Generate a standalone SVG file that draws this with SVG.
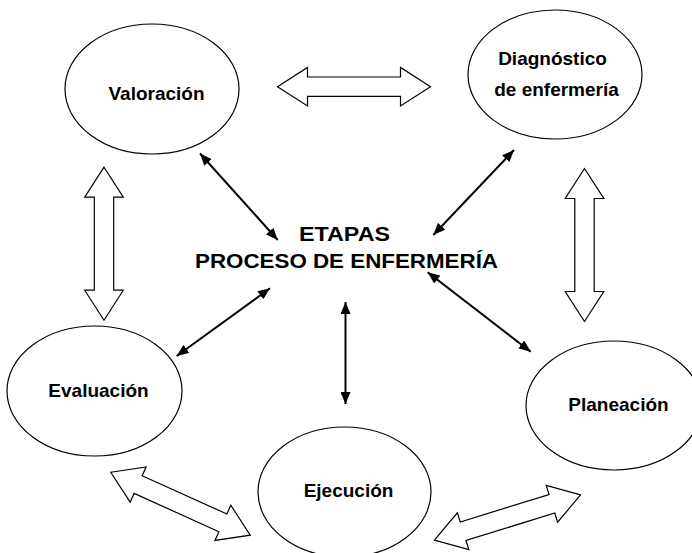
<svg xmlns="http://www.w3.org/2000/svg" xmlns:xlink="http://www.w3.org/1999/xlink" width="692" height="553" viewBox="0 0 692 553">
  <style>
    .node { fill: #ffffff; stroke: #000000; stroke-width: 1.2; }
    .lbl { font-family: "Liberation Sans", Arial, sans-serif; font-weight: bold; font-size: 19px; fill: #000000; text-anchor: middle; }
    .title { font-family: "Liberation Sans", Arial, sans-serif; font-weight: bold; font-size: 20px; fill: #000000; text-anchor: middle; }
    .link { stroke: #000000; stroke-width: 2; fill: none; marker-start: url(#head); marker-end: url(#head); }
    .block { fill: #ffffff; stroke: #000000; stroke-width: 1.2; stroke-linejoin: miter; }
  </style>
  <defs>
    <marker id="head" viewBox="0 0 12 10" refX="12" refY="5" markerWidth="12" markerHeight="10" markerUnits="userSpaceOnUse" orient="auto-start-reverse">
      <path d="M0,0 L12,5 L0,10 z" fill="#000000"/>
    </marker>
    <polygon id="blockArrow" points="-76.5,0 -46.5,-19.3 -46.5,-9.7 46.5,-9.7 46.5,-19.3 76.5,0 46.5,19.3 46.5,9.7 -46.5,9.7 -46.5,19.3"/>
  </defs>
  <rect x="0" y="0" width="692" height="553" fill="#ffffff"/>

  <g id="connectors">
    <use xlink:href="#blockArrow" class="block" transform="translate(354,86.7)"/>
    <use xlink:href="#blockArrow" class="block" transform="translate(104,243.7) rotate(90)"/>
    <use xlink:href="#blockArrow" class="block" transform="translate(584.5,245) rotate(90)"/>
    <use xlink:href="#blockArrow" class="block" transform="translate(180.5,503.7) rotate(24.3)"/>
    <use xlink:href="#blockArrow" class="block" transform="translate(507.5,517.5) rotate(-17.2)"/>
    <line class="link" x1="200" y1="153.5" x2="277.7" y2="240"/>
    <line class="link" x1="514" y1="150" x2="433.3" y2="235"/>
    <line class="link" x1="270" y1="288.3" x2="176.7" y2="356"/>
    <line class="link" x1="427.7" y1="272.3" x2="530.7" y2="351.7"/>
    <line class="link" x1="345.5" y1="302" x2="345.5" y2="404"/>
  </g>

  <g id="center">
    <text class="title" x="344.5" y="241" textLength="91" lengthAdjust="spacingAndGlyphs">ETAPAS</text>
    <text class="title" x="346.5" y="268" textLength="303" lengthAdjust="spacingAndGlyphs">PROCESO DE ENFERMERÍA</text>
  </g>

  <g id="valoracion">
    <ellipse class="node" cx="152" cy="89" rx="87" ry="65"/>
    <text class="lbl" x="156.5" y="100">Valoración</text>
  </g>

  <g id="diagnostico">
    <ellipse class="node" cx="555" cy="74.5" rx="87" ry="64.5"/>
    <text class="lbl" x="552.5" y="65" font-size="18">Diagnóstico</text>
    <text class="lbl" x="556.5" y="96" font-size="18">de enfermería</text>
  </g>

  <g id="evaluacion">
    <ellipse class="node" cx="94.5" cy="391" rx="87.5" ry="65"/>
    <text class="lbl" x="98.5" y="397">Evaluación</text>
  </g>

  <g id="ejecucion">
    <ellipse class="node" cx="344.5" cy="492" rx="86.5" ry="65"/>
    <text class="lbl" x="348.5" y="497">Ejecución</text>
  </g>

  <g id="planeacion">
    <ellipse class="node" cx="614" cy="405.5" rx="88" ry="64.5"/>
    <text class="lbl" x="618.5" y="411">Planeación</text>
  </g>
</svg>
